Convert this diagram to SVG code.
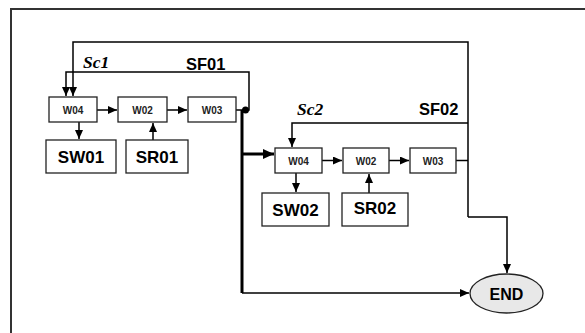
<svg xmlns="http://www.w3.org/2000/svg" width="585" height="333" viewBox="0 0 585 333">
<defs>
<marker id="ah" markerWidth="9" markerHeight="8" refX="9" refY="4" orient="auto" markerUnits="userSpaceOnUse">
<path d="M0,0 L9,4 L0,8 Z" fill="#000"/>
</marker>
<marker id="ahb" markerWidth="11" markerHeight="10" refX="11" refY="5" orient="auto" markerUnits="userSpaceOnUse">
<path d="M0,0 L11,5 L0,10 Z" fill="#000"/>
</marker>
</defs>
<style>
.box{fill:#fff;stroke:#222;stroke-width:1.3}
.w{font-family:"Liberation Sans",Arial,sans-serif;font-weight:bold;font-size:10px;text-anchor:middle;fill:#222}
.s{font-family:"Liberation Sans",Arial,sans-serif;font-weight:bold;font-size:17px;text-anchor:middle;fill:#000}
.lab{font-family:"Liberation Sans",Arial,sans-serif;font-weight:bold;font-size:16px;fill:#000}
.sc{font-family:"Liberation Serif","Times New Roman",serif;font-weight:bold;font-style:italic;font-size:17.5px;fill:#000}
.c{fill:none;stroke:#000;stroke-width:1.5}
.ct{fill:none;stroke:#000;stroke-width:3}
</style>
<path d="M11,333 L11,9 L585,9" fill="none" stroke="#333" stroke-width="2"/>
<g id="connectors">
<path class="c" d="M468,217 L468,42 L73,42 L73,96" marker-end="url(#ah)"/>
<path class="c" d="M245,110 L249,110 L249,72 L66,72 L66,96" marker-end="url(#ah)"/>
<path class="c" d="M97,110 L117,110" marker-end="url(#ah)"/>
<path class="c" d="M167,110 L187,110" marker-end="url(#ah)"/>
<path class="c" d="M236,110 L245,110"/>
<circle cx="245.5" cy="110" r="3.5" fill="#000"/>
<path class="c" d="M79,122 L79,139" marker-end="url(#ah)"/>
<path class="c" d="M153,140 L153,123" marker-end="url(#ah)"/>
<path class="ct" d="M242,110 L242,293"/>
<path class="ct" d="M242,154 L274,154" marker-end="url(#ahb)"/>
<path class="c" d="M242,293 L469,293" marker-end="url(#ah)"/>
<path class="c" d="M468,123 L292,123 L292,147" marker-end="url(#ah)"/>
<path class="c" d="M322,160.5 L342,160.5" marker-end="url(#ah)"/>
<path class="c" d="M389,160.5 L409,160.5" marker-end="url(#ah)"/>
<path class="c" d="M456,160.5 L468,160.5"/>
<path class="c" d="M296,173 L296,192" marker-end="url(#ah)"/>
<path class="c" d="M369,193 L369,174" marker-end="url(#ah)"/>
<path class="c" d="M468,217 L507,217 L507,273" marker-end="url(#ah)"/>
</g>
<text class="sc" x="83" y="68">Sc1</text>
<text class="lab" x="186" y="70" style="font-size:16.5px">SF01</text>
<text class="sc" x="297" y="115">Sc2</text>
<text class="lab" x="419" y="115" style="font-size:16.5px">SF02</text>
<g id="w04a"><rect class="box" x="49" y="97" width="48" height="25"/><text class="w" x="73" y="114">W04</text></g>
<g id="w02a"><rect class="box" x="118" y="97" width="49" height="25"/><text class="w" x="142.5" y="114">W02</text></g>
<g id="w03a"><rect class="box" x="188" y="97" width="48" height="25"/><text class="w" x="212" y="114">W03</text></g>
<g id="sw01"><rect class="box" x="46" y="140" width="70" height="33"/><text class="s" x="81" y="163">SW01</text></g>
<g id="sr01"><rect class="box" x="126" y="140" width="62" height="33"/><text class="s" x="157" y="163">SR01</text></g>
<g id="w04b"><rect class="box" x="275" y="148" width="47" height="25"/><text class="w" x="298.5" y="164.5">W04</text></g>
<g id="w02b"><rect class="box" x="343" y="148" width="46" height="25"/><text class="w" x="366" y="164.5">W02</text></g>
<g id="w03b"><rect class="box" x="410" y="148" width="46" height="25"/><text class="w" x="433" y="164.5">W03</text></g>
<g id="sw02"><rect class="box" x="262" y="193" width="67" height="33"/><text class="s" x="295.5" y="216">SW02</text></g>
<g id="sr02"><rect class="box" x="342" y="193" width="66" height="33"/><text class="s" x="375" y="214">SR02</text></g>
<g id="end"><ellipse cx="506.5" cy="293.5" rx="36.5" ry="19.5" fill="#e8e8e8" stroke="#222" stroke-width="1.3"/><text class="lab" x="506.5" y="299.5" text-anchor="middle" style="font-size:16px">END</text></g>
</svg>
